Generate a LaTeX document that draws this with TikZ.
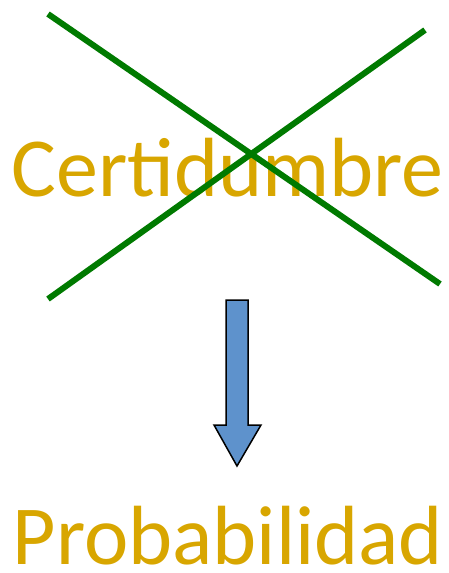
\documentclass[tikz,border=0pt]{standalone}
\usepackage{fontspec}
\setmainfont{Carlito}
\usetikzlibrary{calc,positioning}
\definecolor{wordgold}{RGB}{216,166,0}
\definecolor{crossgreen}{RGB}{0,122,0}
\definecolor{arrowblue}{RGB}{94,146,204}
\tikzset{
  word/.style={text=wordgold, font=\fontsize{84}{100}\selectfont, inner sep=0pt,
    text depth=0pt, anchor=base},
  crossline/.style={draw=crossgreen, line width=6pt},
  blockarrow/.style={draw=black, fill=arrowblue, line width=1.5pt, line join=miter}
}
\begin{document}
\begin{tikzpicture}[x=1pt,y=-1pt]
    \useasboundingbox (0,0) rectangle (448,573);
    \node[word] (certidumbre) at (227.5,196) {Certidumbre};
    \node[word] (probabilidad) at (228,564) {Probabilidad};

    % the cross over the word
    \coordinate (crossA) at (48,14);
    \coordinate (crossB) at (440,284);
    \coordinate (crossC) at (48,299);
    \coordinate (crossD) at (425,30);
    \draw[crossline] (crossA) -- (crossB);
    \draw[crossline] (crossC) -- (crossD);

    % block arrow
    \coordinate (arrowtop) at (237,300);
    \coordinate (arrowtip) at (237,466);
    \draw[blockarrow] ($(arrowtop)+(-11,0)$) -- ($(arrowtop)+(11,0)$)
      -- (248,425) -- (261,425) -- (arrowtip) -- (214,425) -- (226,425) -- cycle;
\end{tikzpicture}
\end{document}
